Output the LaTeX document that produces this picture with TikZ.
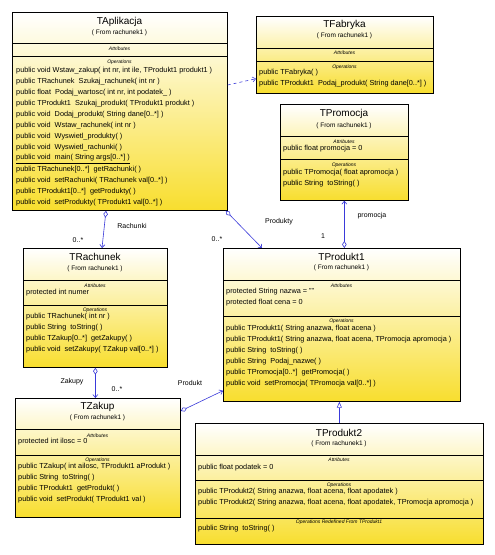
\documentclass[tikz,border=0pt]{standalone}
\usepackage{fontspec}
\setmainfont{Liberation Sans}
\usepackage{xcolor}
\usepackage{tikz}
\usetikzlibrary{arrows.meta,calc}

\definecolor{umlyellow}{RGB}{248,222,46}
\definecolor{umlblue}{RGB}{58,58,218}

\begin{document}
\begin{tikzpicture}[
    x=1pt, y=-1pt,
    cls/.style={draw=black, line width=0.7pt, top color=white, bottom color=umlyellow, anchor=north west, inner sep=0pt},
    clsname/.style={font=\fontsize{10}{12}\selectfont, inner sep=0pt},
    fromtxt/.style={font=\fontsize{6.5}{8}\selectfont, inner sep=0pt},
    secttxt/.style={font=\fontsize{5}{6}\selectfont\itshape, inner sep=0pt},
    optxt/.style={anchor=west, font=\fontsize{7.3}{9}\selectfont, inner sep=0pt},
    sepline/.style={draw=black, line width=0.7pt},
    lbl/.style={font=\fontsize{7}{8}\selectfont, inner sep=0pt},
    assoc/.style={draw=umlblue, line width=0.6pt, {Diamond[fill=white,length=7pt,width=4.5pt]}-{Straight Barb[length=3pt,width=5pt]}},
    dep/.style={draw=umlblue, line width=0.6pt, dashed, -{Straight Barb[length=3pt,width=5pt]}},
    gen/.style={draw=umlblue, line width=0.6pt, -{Triangle[fill=white,length=6pt,width=5pt]}}
]
\path[use as bounding box, fill=white] (0,0) rectangle (495,555);

% TAplikacja
\node[cls, minimum width=215pt, minimum height=198pt] (aplik) at (12,12) {};
\node[clsname] (aplik-n) at (119.5,22) {TAplikacja};
\node[fromtxt] (aplik-f) at (119.5,33) {( From rachunek1 )};
\draw[sepline] ($(aplik.north west)+(0,31)$) -- ($(aplik.north east)+(0,31)$);
\draw[sepline] ($(aplik.north west)+(0,44)$) -- ($(aplik.north east)+(0,44)$);
\node[secttxt] (aplik-a) at (119.5,49) {Attributes};
\node[secttxt] (aplik-o) at (119.5,62) {Operations};
\foreach \t [count=\i] in {
    {public void Wstaw\_zakup( int nr, int ile, TProdukt1 produkt1 )},
    {public TRachunek \ Szukaj\_rachunek( int nr )},
    {public float \ Podaj\_wartosc( int nr, int podatek\_ )},
    {public TProdukt1 \ Szukaj\_produkt( TProdukt1 produkt )},
    {public void \ Dodaj\_produkt( String dane[0..*] )},
    {public void \ Wstaw\_rachunek( int nr )},
    {public void \ Wyswietl\_produkty( )},
    {public void \ Wyswietl\_rachunki( )},
    {\underline{public void \ main( String args[0..*] )}},
    {public TRachunek[0..*] \ getRachunki( )},
    {public void \ setRachunki( TRachunek val[0..*] )},
    {public TProdukt1[0..*] \ getProdukty( )},
    {public void \ setProdukty( TProdukt1 val[0..*] )}}
  \node[optxt] (aplik-op\i) at (16,60+11*\i) {\t};

% TFabryka
\node[cls, minimum width=177pt, minimum height=77pt] (fabr) at (256,16) {};
\node[clsname] (fabr-n) at (344.5,25) {TFabryka};
\node[fromtxt] (fabr-f) at (344.5,36) {( From rachunek1 )};
\draw[sepline] ($(fabr.north west)+(0,32)$) -- ($(fabr.north east)+(0,32)$);
\draw[sepline] ($(fabr.north west)+(0,45)$) -- ($(fabr.north east)+(0,45)$);
\node[secttxt] (fabr-a) at (344.5,53) {Attributes};
\node[secttxt] (fabr-o) at (344.5,67) {Operations};
\foreach \t [count=\i] in {
    {public TFabryka( )},
    {public TProdukt1 \ Podaj\_produkt( String dane[0..*] )}}
  \node[optxt] (fabr-op\i) at (259,62+11*\i) {\t};

% TPromocja
\node[cls, minimum width=128pt, minimum height=96pt] (prom) at (280,104) {};
\node[clsname] (prom-n) at (344,114) {TPromocja};
\node[fromtxt] (prom-f) at (344,126) {( From rachunek1 )};
\draw[sepline] ($(prom.north west)+(0,32)$) -- ($(prom.north east)+(0,32)$);
\draw[sepline] ($(prom.north west)+(0,55)$) -- ($(prom.north east)+(0,55)$);
\node[secttxt] (prom-a) at (344,142) {Attributes};
\node[optxt] (prom-at1) at (283,149) {public float promocja = 0};
\node[secttxt] (prom-o) at (344,165) {Operations};
\foreach \t [count=\i] in {
    {public TPromocja( float apromocja )},
    {public String \ toString( )}}
  \node[optxt] (prom-op\i) at (283,162+11*\i) {\t};

% TRachunek
\node[cls, minimum width=144pt, minimum height=119pt] (rach) at (23,248) {};
\node[clsname] (rach-n) at (95,257) {TRachunek};
\node[fromtxt] (rach-f) at (95,269) {( From rachunek1 )};
\draw[sepline] ($(rach.north west)+(0,32)$) -- ($(rach.north east)+(0,32)$);
\draw[sepline] ($(rach.north west)+(0,57)$) -- ($(rach.north east)+(0,57)$);
\node[secttxt] (rach-a) at (95,286) {Attributes};
\node[optxt] (rach-at1) at (26,293) {protected int numer};
\node[secttxt] (rach-o) at (95,310) {Operations};
\foreach \t [count=\i] in {
    {public TRachunek( int nr )},
    {public String \ toString( )},
    {public TZakup[0..*] \ getZakupy( )},
    {public void \ setZakupy( TZakup val[0..*] )}}
  \node[optxt] (rach-op\i) at (26,306+11*\i) {\t};

% TZakup
\node[cls, minimum width=165pt, minimum height=119pt] (zakup) at (15,398) {};
\node[clsname] (zakup-n) at (97.5,407) {TZakup};
\node[fromtxt] (zakup-f) at (97.5,418) {( From rachunek1 )};
\draw[sepline] ($(zakup.north west)+(0,31)$) -- ($(zakup.north east)+(0,31)$);
\draw[sepline] ($(zakup.north west)+(0,57)$) -- ($(zakup.north east)+(0,57)$);
\node[secttxt] (zakup-a) at (97.5,436) {Attributes};
\node[optxt] (zakup-at1) at (18,442) {protected int ilosc = 0};
\node[secttxt] (zakup-o) at (97.5,460) {Operations};
\foreach \t [count=\i] in {
    {public TZakup( int ailosc, TProdukt1 aProdukt )},
    {public String \ toString( )},
    {public TProdukt1 \ getProdukt( )},
    {public void \ setProdukt( TProdukt1 val )}}
  \node[optxt] (zakup-op\i) at (18,456+11*\i) {\t};

% TProdukt1
\node[cls, minimum width=237pt, minimum height=153pt] (prod1) at (223,248) {};
\node[clsname] (prod1-n) at (341.5,257) {TProdukt1};
\node[fromtxt] (prod1-f) at (341.5,268) {( From rachunek1 )};
\draw[sepline] ($(prod1.north west)+(0,32)$) -- ($(prod1.north east)+(0,32)$);
\draw[sepline] ($(prod1.north west)+(0,68)$) -- ($(prod1.north east)+(0,68)$);
\node[secttxt] (prod1-a) at (341.5,286) {Attributes};
\node[optxt] (prod1-at1) at (226,292) {protected String nazwa = ""};
\node[optxt] (prod1-at2) at (226,303) {protected float cena = 0};
\node[secttxt] (prod1-o) at (341.5,321) {Operations};
\foreach \t [count=\i] in {
    {public TProdukt1( String anazwa, float acena )},
    {public TProdukt1( String anazwa, float acena, TPromocja apromocja )},
    {public String \ toString( )},
    {public String \ Podaj\_nazwe( )},
    {public TPromocja[0..*] \ getPromocja( )},
    {public void \ setPromocja( TPromocja val[0..*] )}}
  \node[optxt] (prod1-op\i) at (226,318+11*\i) {\t};

% TProdukt2
\node[cls, minimum width=288pt, minimum height=121pt] (prod2) at (195,423) {};
\node[clsname] (prod2-n) at (339,433) {TProdukt2};
\node[fromtxt] (prod2-f) at (339,444) {( From rachunek1 )};
\draw[sepline] ($(prod2.north west)+(0,32)$) -- ($(prod2.north east)+(0,32)$);
\draw[sepline] ($(prod2.north west)+(0,57)$) -- ($(prod2.north east)+(0,57)$);
\draw[sepline] ($(prod2.north west)+(0,95)$) -- ($(prod2.north east)+(0,95)$);
\node[secttxt] (prod2-a) at (339,460) {Attributes};
\node[optxt] (prod2-at1) at (198,468) {public float podatek = 0};
\node[secttxt] (prod2-o) at (339,485) {Operations};
\foreach \t [count=\i] in {
    {public TProdukt2( String anazwa, float acena, float apodatek )},
    {public TProdukt2( String anazwa, float acena, float apodatek, TPromocja apromocja )}}
  \node[optxt] (prod2-op\i) at (198,481+11*\i) {\t};
\node[secttxt] (prod2-r) at (339,522) {Operations Redefined From TProdukt1};
\node[optxt] (prod2-rop1) at (198,529) {public String \ toString( )};

% connectors
\draw[dep] ($(aplik.north east)+(0,73)$) -- ($(fabr.south west)+(0,-15)$);
\draw[assoc] ($(aplik.south west)+(94,0)$) -- ($(rach.north west)+(79,0)$);
\draw[assoc] ($(aplik.south east)+(-2,0)$) -- ($(prod1.north west)+(39,0)$);
\draw[assoc] (prom.south |- prod1.north) -- (prom.south);
\draw[assoc] (rach.south) -- (rach.south |- zakup.north);
\draw[assoc] ($(zakup.north east)+(0,13)$) -- ($(prod1.south west)+(0,-11)$);
\draw[gen] (prod2.north) -- (prod2.north |- prod1.south);

% labels
\node[lbl] (l-rach) at (132,226) {Rachunki};
\node[lbl] (m-rach) at (78,240) {0..*};
\node[lbl] (l-prod) at (279,222) {Produkty};
\node[lbl] (m-prod) at (217,239) {0..*};
\node[lbl] (l-prom) at (372,216) {promocja};
\node[lbl] (m-prom) at (323,236) {1};
\node[lbl] (l-zak) at (72,382) {Zakupy};
\node[lbl] (m-zak) at (117,389) {0..*};
\node[lbl] (l-prodt) at (190,383) {Produkt};
\end{tikzpicture}
\end{document}
